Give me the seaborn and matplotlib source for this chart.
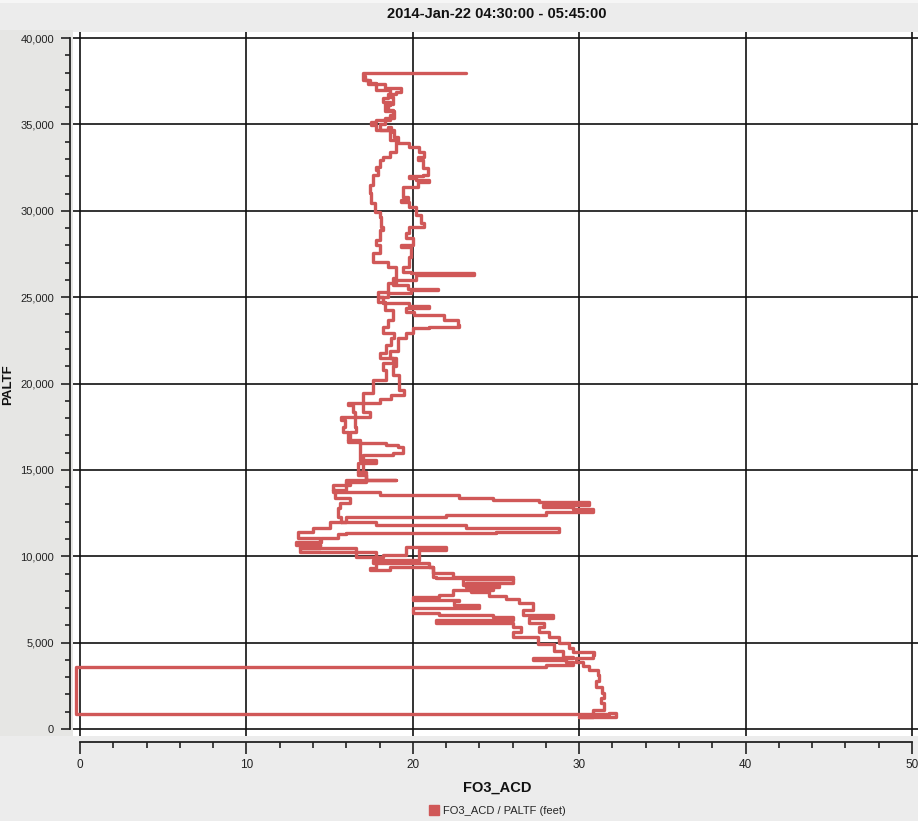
import matplotlib
matplotlib.use("Agg")
import matplotlib.pyplot as plt
import matplotlib.ticker as mticker
from matplotlib.lines import Line2D
from matplotlib.patches import Rectangle
import seaborn as sns
import pandas as pd

# ---------------- data (ozone FO3_ACD vs pressure altitude PALTF, feet) -------------
# descent leg, top -> bottom
descent_o3 = [17.1, 17.4, 17.8, 18.6, 18.8, 18.3, 18.9, 18.3, 18.0, 18.9, 19.1, 19.8, 20.4, 20.7,
              20.3, 20.6, 20.9, 20.6, 19.8, 20.2, 21.0, 20.3, 19.4, 19.7, 19.3, 19.8, 20.2, 20.5,
              20.7, 19.8, 19.6, 20.0, 19.3, 19.9, 19.8, 19.4, 19.9, 23.7, 20.2, 19.0, 18.8, 19.7,
              21.5, 19.9, 18.5, 17.9, 18.2, 19.8, 21.0, 19.6, 20.1, 21.9, 22.7, 22.8, 21.0, 20.0,
              19.6, 19.1, 19.1, 18.6, 19.0, 18.8, 19.2, 19.2, 19.5, 18.7, 18.0, 17.0, 17.4, 16.5,
              16.6, 16.2, 16.1, 16.8, 18.4, 19.1, 19.4, 19.4, 18.8, 17.0, 17.8, 17.0, 16.7, 17.2,
              19.0, 17.2, 16.0, 15.2, 16.2, 18.0, 22.8, 24.8, 27.6, 30.6, 27.8, 29.6, 30.8, 28.0,
              22.0, 18.0, 16.0, 15.7, 17.8, 23.2, 28.8, 25.0, 16.0, 15.5, 14.5, 13.0, 14.4, 13.2,
              16.6, 18.2, 19.6, 20.4, 22.0, 20.4, 20.0, 17.8, 17.4, 18.6, 19.8, 21.2, 21.4, 23.2,
              26.0, 23.2, 24.8, 22.4, 21.6, 20.0, 20.0, 22.8, 22.5, 24.0, 21.0, 20.0, 21.6, 24.8,
              26.0, 21.4, 26.0, 26.5, 26.0, 27.5, 28.5, 29.0, 29.6, 27.2, 29.2, 29.6, 28.0, 26.8,
              24.0]
descent_alt = [37800, 37600, 37400, 37000, 36600, 36200, 35800, 35400, 35000, 34700, 34300, 33900,
               33670, 33420, 33130, 32940, 32460, 32070, 32000, 31880, 31800, 31680, 31390, 30820,
               30620, 30530, 30240, 29760, 29270, 29080, 28690, 28400, 28020, 27920, 27340, 26760,
               26470, 26380, 26300, 25990, 25800, 25700, 25450, 25410, 25220, 25030, 24740, 24640,
               24500, 24350, 24150, 23970, 23680, 23390, 23290, 23190, 22900, 22610, 22230, 21900,
               21460, 21000, 20500, 20300, 19620, 19330, 19100, 18850, 18370, 18080, 17500, 17210,
               16730, 16640, 16540, 16440, 16300, 16150, 15960, 15860, 15570, 15380, 14900, 14710,
               14420, 14400, 14320, 13840, 13740, 13740, 13550, 13350, 13260, 13160, 12970, 12870,
               12720, 12580, 12390, 12290, 12290, 12000, 12000, 11810, 11620, 11420, 11330, 11300,
               11040, 10850, 10650, 10460, 10270, 9980, 10070, 10560, 10560, 10360, 9780, 9780, 9300,
               9200, 9400, 9400, 8820, 8720, 8660, 8430, 8240, 8050, 7760, 7660, 7560, 7470, 7400,
               7200, 7000, 6980, 6700, 6600, 6500, 6310, 6120, 5900, 5630, 5300, 4900, 4500, 4180,
               4090, 3990, 3900, 3700, 3610, 3600]

# instrument dropout near the ground (reads ~0)
dropout_o3 = [-0.25, -0.25, 31.8]
dropout_alt = [3590, 880, 880]

# ascent leg, bottom -> top
ascent_o3 = [32.2, 30.0, 30.8, 31.5, 31.3, 31.5, 31.4, 31.0, 31.2, 31.1, 30.6, 30.2, 29.8, 30.8,
             30.9, 29.6, 29.4, 28.8, 28.2, 27.6, 27.9, 27.0, 28.4, 26.6, 27.2, 26.4, 25.6, 24.6,
             23.5, 25.2, 23.0, 26.0, 22.4, 21.2, 21.0, 19.8, 17.6, 17.8, 16.6, 13.2, 14.4, 13.1,
             14.0, 15.0, 15.7, 15.5, 15.6, 16.2, 15.3, 15.2, 16.2, 16.0, 17.2, 17.2, 16.7, 17.0,
             16.8, 16.1, 15.8, 15.9, 15.7, 16.5, 16.4, 16.1, 17.0, 17.6, 17.6, 18.4, 18.2, 18.8,
             18.0, 18.4, 18.7, 18.9, 18.2, 18.5, 18.8, 18.3, 18.2, 17.9, 18.5, 18.8, 19.0, 18.5,
             17.6, 18.0, 17.8, 18.0, 18.2, 18.1, 18.0, 17.7, 17.5, 17.4, 17.6, 17.9, 17.8, 18.0,
             18.2, 18.6, 19.0, 19.0, 18.6, 18.7, 18.5, 17.8, 17.5, 17.8, 18.6, 18.8, 18.5, 18.6,
             18.2, 18.5, 19.0, 19.3, 18.3, 17.3, 17.0, 17.1, 23.2]
ascent_alt = [920, 700, 690, 1100, 1480, 1800, 2060, 2450, 2800, 3120, 3400, 3650, 3900, 4100,
              4280, 4450, 4700, 4960, 5300, 5600, 5920, 6150, 6450, 6600, 6890, 7270, 7500, 7700,
              7950, 8240, 8350, 8680, 8820, 9010, 9400, 9590, 9620, 9780, 10270, 10460, 10650,
              11040, 11420, 11620, 12000, 12290, 12780, 13060, 13350, 13840, 14100, 14320, 14420,
              14710, 14900, 15380, 15570, 16730, 17210, 17500, 17890, 18080, 18370, 18760, 18850,
              19430, 19820, 20200, 20780, 21170, 21460, 21750, 22230, 22610, 22900, 23300, 23700,
              24250, 24740, 25030, 25320, 25800, 26100, 26760, 27050, 27540, 28020, 28310, 28890,
              29080, 29660, 29950, 30430, 31010, 31490, 32070, 32360, 32550, 32940, 33130, 33400,
              33810, 34100, 34580, 34870, 34680, 34970, 35160, 35260, 35540, 35830, 36120, 36320,
              36510, 36740, 36860, 37090, 37340, 37570, 37960, 37960]

x_ticks = [0, 10, 20, 30, 40, 50]
y_ticks = [0, 5000, 10000, 15000, 20000, 25000, 30000, 35000, 40000]
title = "2014-Jan-22 04:30:00 - 05:45:00"
x_label = "FO3_ACD"
y_label = "PALTF"
legend_label = "FO3_ACD / PALTF (feet)"

# ---------------- build frame ----------------
o3 = descent_o3 + dropout_o3 + ascent_o3
alt = descent_alt + dropout_alt + ascent_alt
df = pd.DataFrame({"FO3_ACD": o3, "PALTF": alt})

sns.set_style("white")
plt.rcParams["font.family"] = ["Liberation Sans", "DejaVu Sans"]

W, H = 918, 821
fig = plt.figure(figsize=(W / 100, H / 100), dpi=100, facecolor="#ECECEC")
fig.patches.append(Rectangle((0, 1 - 3 / H), 1, 3 / H, transform=fig.transFigure,
                             facecolor="#F6F6F6", edgecolor="none", zorder=-1))
fig.patches.append(Rectangle((0, 1 - 736 / H), 73 / W, (736 - 30) / H, transform=fig.transFigure,
                             facecolor="#E6E6E4", edgecolor="none", zorder=-1))

ax = fig.add_axes([73 / W, 1 - 736 / H, (W - 73) / W, (736 - 32) / H])
ax.set_facecolor("white")

line_color = "#D05858"
sns.lineplot(data=df, x="FO3_ACD", y="PALTF", sort=False, estimator=None,
             color=line_color, lw=2.4, ax=ax, zorder=3, drawstyle="steps-pre")

ax.set_xlim(-0.42, 50.36)
ax.set_ylim(-405, 40350)

ax.xaxis.set_major_locator(mticker.FixedLocator(x_ticks))
ax.xaxis.set_minor_locator(mticker.MultipleLocator(2))
ax.yaxis.set_major_locator(mticker.FixedLocator(y_ticks))
ax.yaxis.set_minor_locator(mticker.MultipleLocator(1000))
ax.yaxis.set_major_formatter(mticker.FuncFormatter(lambda v, p: f"{int(v):,}"))
ax.xaxis.set_major_formatter(mticker.FuncFormatter(lambda v, p: f"{int(v)}"))

ax.grid(True, which="major", color="#111111", lw=1.2, zorder=1)

for s in ["top", "right"]:
    ax.spines[s].set_visible(False)
ax.spines["left"].set_position(("outward", 2.2))
ax.spines["bottom"].set_position(("outward", 4.0))
ax.spines["left"].set_bounds(0, 40000)
ax.spines["bottom"].set_bounds(0, 50)
for s in ["left", "bottom"]:
    ax.spines[s].set_color("#222222")
    ax.spines[s].set_linewidth(1.3)

ax.tick_params(axis="y", which="major", direction="out", length=6.5, width=1.2, color="#222222",
               labelsize=8, labelcolor="#222222", left=True, pad=5)
ax.tick_params(axis="y", which="minor", direction="out", length=3.5, width=1.2, color="#222222",
               left=True)
ax.tick_params(axis="x", which="major", direction="out", length=8.5, width=1.2, color="#222222",
               labelsize=8.5, labelcolor="#222222", bottom=True, pad=4)
ax.tick_params(axis="x", which="minor", direction="out", length=4.3, width=1.2, color="#222222",
               bottom=True)
ax.set_xlabel("")
ax.set_ylabel("")

fig.text(497 / W, 1 - 14 / H, title, ha="center", va="center", fontsize=10.5,
         fontweight="bold", color="#111111",
         family=["Liberation Sans Narrow", "Liberation Sans", "DejaVu Sans"])
fig.text(497 / W, 1 - 788 / H, x_label, ha="center", va="center", fontsize=10.5,
         fontweight="bold", color="#111111",
         family=["Liberation Sans Narrow", "Liberation Sans", "DejaVu Sans"])
fig.text(8 / W, 1 - 385 / H, y_label, ha="center", va="center", fontsize=9.5,
         fontweight="bold", rotation=90, color="#111111")

handle = Line2D([], [], marker="s", ls="none", color=line_color, markersize=7)
leg = fig.legend([handle], [legend_label], loc="center", bbox_to_anchor=(497 / W, 1 - 811 / H),
                 frameon=False, fontsize=8, handletextpad=0.3, handlelength=1.0,
                 borderaxespad=0, borderpad=0)

fig.savefig("out.png", dpi=100, facecolor=fig.get_facecolor())
